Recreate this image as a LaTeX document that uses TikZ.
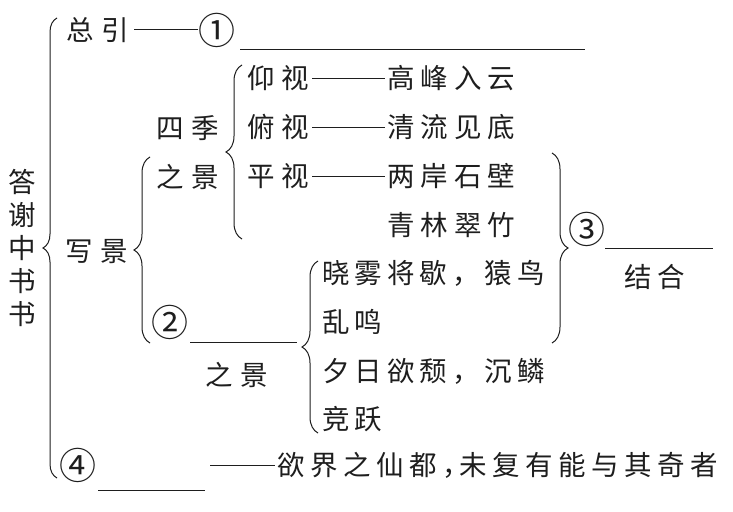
\documentclass[tikz,border=0pt]{standalone}
\usepackage{fontspec}
\setmainfont{Noto Sans CJK SC}
\usetikzlibrary{decorations.pathreplacing}
\definecolor{ink}{HTML}{1E1E1E}
\makeatletter
\def\spgap{6pt}
\def\sp@x#1{\ifx#1\relax\else#1\hskip\spgap\relax\expandafter\sp@x\fi}
\newcommand\spaced[2]{\def\spgap{#1}\sp@x#2\relax\unskip}
\makeatother
\tikzset{
  txt/.style={anchor=west, inner sep=0pt, text=ink, font=\fontsize{27.5}{33}\selectfont},
  num/.style={inner sep=0pt, text=ink, font=\fontsize{37}{37}\selectfont},
  ln/.style={draw=ink, line width=1pt},
  brc/.style={draw=ink, line width=1pt, decorate, decoration={brace, amplitude=#1}},
}
\begin{document}
\begin{tikzpicture}[x=1pt,y=-1pt]
\fill[white] (0,0) rectangle (733,511);
\useasboundingbox (0,0) rectangle (733,511);

% title
\node[txt, anchor=center, align=center] (title) at (22,248) {答\\谢\\中\\书\\书};
\draw[brc=14] (57,478) -- (57,18);

% 总引
\node[txt] (zongyin) at (66,30) {\spaced{8pt}{总引}};
\node[num] (c1) at (217,30) {①};
\draw[ln] ([xshift=5pt]zongyin.east) -- ([xshift=0pt]c1.west);
\coordinate (b1s) at (240,50);
\coordinate (b1e) at (585,50);
\draw[ln] (b1s) -- (b1e);

% 写景
\node[txt] (xiejing) at (65,252) {\spaced{8pt}{写景}};
\draw[brc=16] (150,343) -- (150,157);

% 四季之景
\node[txt] (siji) at (156,128) {\spaced{8pt}{四季}};
\node[txt] (zhijing1) at (156,177) {\spaced{8pt}{之景}};
\draw[brc=16] (242,239) -- (242,65);

\node[txt] (yangshi) at (247,78) {\spaced{7pt}{仰视}};
\node[txt] (gaofeng) at (387,78) {\spaced{6pt}{高峰入云}};
\node[txt] (fushi) at (247,127) {\spaced{7pt}{俯视}};
\node[txt] (qingliu) at (387,127) {\spaced{6pt}{清流见底}};
\node[txt] (pingshi) at (247,176) {\spaced{7pt}{平视}};
\node[txt] (liangan) at (387,176) {\spaced{6pt}{两岸石壁}};
\node[txt] (qinglin) at (387,225) {\spaced{6pt}{青林翠竹}};
\draw[ln] ([xshift=3pt]yangshi.east) -- ([xshift=-2pt]gaofeng.west);
\draw[ln] ([xshift=3pt]fushi.east) -- ([xshift=-2pt]qingliu.west);
\draw[ln] ([xshift=3pt]pingshi.east) -- ([xshift=-2pt]liangan.west);

% ② 之景
\node[num] (c2) at (170,322) {②};
\coordinate (b2s) at (190,342);
\coordinate (b2e) at (297,342);
\draw[ln] (b2s) -- (b2e);
\node[txt] (zhijing2) at (205,375) {\spaced{8pt}{之景}};
\draw[brc=16] (318,433) -- (318,261);

\node[txt] (xiaowu) at (322,273) {\spaced{5pt}{晓雾将歇，猿鸟}};
\node[txt] (luanming) at (322,322) {\spaced{5pt}{乱鸣}};
\node[txt] (xiri) at (322,371) {\spaced{5pt}{夕日欲颓，沉鳞}};
\node[txt] (jingyue) at (322,419) {\spaced{5pt}{竞跃}};

% ③ 结合
\draw[brc=16] (552,153) -- (552,343);
\node[num] (c3) at (587,229) {③};
\coordinate (b3s) at (605,248);
\coordinate (b3e) at (713,248);
\draw[ln] (b3s) -- (b3e);
\node[txt] (jiehe) at (624,277) {\spaced{6pt}{结合}};

% ④
\node[num] (c4) at (78,465) {④};
\coordinate (b4s) at (98,490);
\coordinate (b4e) at (205,490);
\draw[ln] (b4s) -- (b4e);
\node[txt] (yujie) at (277,465) {\spaced{5.5pt}{欲界之仙都，}\hspace{-10pt}\spaced{5.5pt}{未复有能与其奇者}};
\coordinate (d4s) at (210,465);
\draw[ln] (d4s) -- ([xshift=-2pt]yujie.west);
\end{tikzpicture}
\end{document}
